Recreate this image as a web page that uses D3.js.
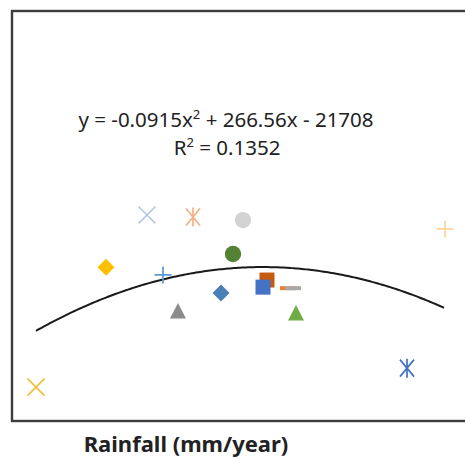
<!DOCTYPE html>
<html>
<head>
<meta charset="utf-8">
<script src="https://cdn.jsdelivr.net/npm/d3@7"></script>
<style>
  body { margin: 0; background: #fff; }
  svg { display: block; }
</style>
</head>
<body>
<div id="chart"></div>
<script>
// values (rainfall mm/year vs yield)
var rainfall = [1003, 1225, 1317, 1417, 1397, 1143, 1257, 1465, 1457, 1507, 1517, 1373, 1287, 1523, 1821, 1745];
var yieldVals = [137000, 187800, 187200, 186300, 176300, 172400, 170100, 168600, 166500, 166200, 166200, 164800, 159500, 158900, 183700, 142600];
var markers = ["x", "x", "star", "circle", "circle", "diamond", "plus", "square", "square", "dash", "dash", "diamond", "triangle", "triangle", "plus", "star"];
var colors = ["#f0c040", "#b4c7e7", "#f4b183", "#d3d3d3", "#548235", "#ffc000", "#5b9bd5", "#c55a11", "#4472c4", "#ed7d31", "#a9a9a9", "#4a7fb8", "#8c8c8c", "#70ad47", "#ffd49a", "#4472c4"];

// trendline coefficients (from the chart label)
var coef = [-0.0915, 266.56, -21708];
var eqLabel = ["y = -0.0915x", "2", " + 266.56x - 21708"];
var r2Label = ["R", "2", " = 0.1352"];
var xTitle = "Rainfall (mm/year)";

var svgWidth = 465;
var svgHeight = 459;
var margin = {top: 11, left: 12};
var width = 460;
var height = 410;

var svg = d3.select("#chart")
  .append("svg")
  .attr("width", svgWidth)
  .attr("height", svgHeight);

var chartGroup = svg.append("g")
  .attr("transform", `translate(${margin.left}, ${margin.top})`);

var x = d3.scaleLinear().domain([955, 1875]).range([0, width]);
var y = d3.scaleLinear().domain([127000, 248000]).range([height, 0]);

// plot frame
chartGroup.append("rect")
  .attr("width", width)
  .attr("height", height)
  .attr("fill", "none")
  .attr("stroke", "#3c3c3c")
  .attr("stroke-width", 2.4);

// polynomial trendline, from min to max rainfall
var xs = d3.range(d3.min(rainfall), d3.max(rainfall) + 1, 4);
var line = d3.line()
  .x(d => x(d))
  .y(d => y(coef[0] * d * d + coef[1] * d + coef[2]));

chartGroup.append("path")
  .datum(xs)
  .attr("d", line)
  .attr("fill", "none")
  .attr("stroke", "#1a1a1a")
  .attr("stroke-width", 2);

// marker shapes
function markerPath(type) {
  switch (type) {
    case "circle": return d3.symbol(d3.symbolCircle, 210)();
    case "square": return "M-7.5,-7.5h15v15h-15z";
    case "diamond": return "M0,-8.5L8.5,0L0,8.5L-8.5,0z";
    case "triangle": return "M0,-8L8,7.5L-8,7.5z";
    case "dash": return "M-8,-2h16v4h-16z";
    case "plus": return "M-8.5,0H8.5M0,-8.5V8.5";
    case "x": return "M-8.5,-8.5L8.5,8.5M-8.5,8.5L8.5,-8.5";
    case "star": return "M-7,-8.5L7,8.5M-7,8.5L7,-8.5M0,-9.5V9.5";
  }
}
var stroked = {plus: true, x: true, star: true};

var pts = rainfall.map((d, i) => ({x: d, y: yieldVals[i], m: markers[i], c: colors[i]}));

chartGroup.selectAll(".pt")
  .data(pts)
  .enter()
  .append("path")
  .attr("class", "pt")
  .attr("transform", d => `translate(${x(d.x)}, ${y(d.y)})`)
  .attr("d", d => markerPath(d.m))
  .attr("fill", d => stroked[d.m] ? "none" : d.c)
  .attr("stroke", d => stroked[d.m] ? d.c : "none")
  .attr("stroke-width", 1.7);

// equation labels
function supText(parts, px, py) {
  var t = svg.append("text")
    .attr("x", px)
    .attr("y", py)
    .attr("text-anchor", "middle")
    .attr("font-family", "Noto Sans, sans-serif")
    .attr("font-size", 20.5)
    .attr("fill", "#222");
  t.append("tspan").text(parts[0]);
  t.append("tspan").attr("dy", -8).attr("font-size", 13).text(parts[1]);
  t.append("tspan").attr("dy", 8).text(parts[2]);
  return t;
}
supText(eqLabel, 226, 127);
supText(r2Label, 227, 155);

// x axis title
svg.append("text")
  .attr("x", 186)
  .attr("y", 452)
  .attr("text-anchor", "middle")
  .attr("font-family", "Noto Sans, sans-serif")
  .attr("font-weight", "bold")
  .attr("font-size", 22)
  .attr("fill", "#222")
  .text(xTitle);
</script>
</body>
</html>
